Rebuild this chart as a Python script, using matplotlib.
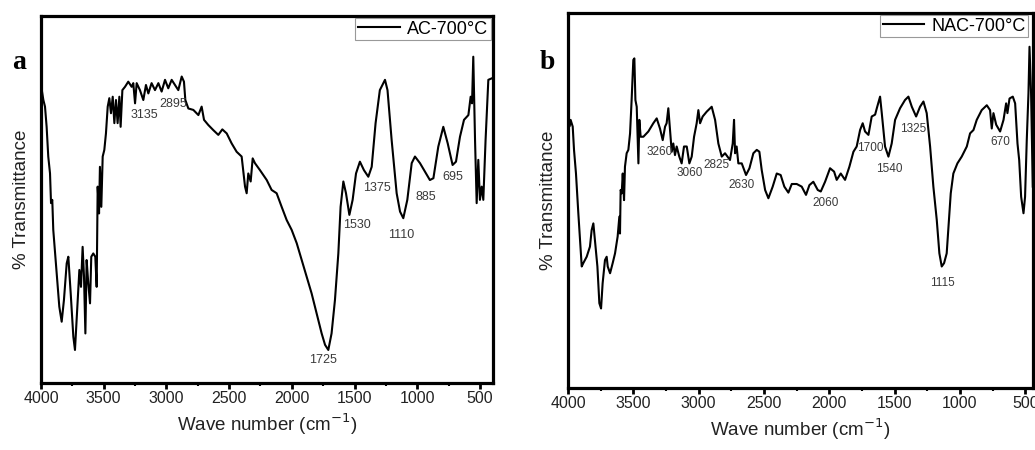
#   ftir spektren von AC-700°C (a) und NAC-700°C (b)
import matplotlib
matplotlib.use('Agg')
from matplotlib import pyplot as plt
from matplotlib.ticker import MultipleLocator

#   daten (wellenzahl in cm-1, transmittance in relativen einheiten)
wn_ac = [4000, 3981, 3968, 3955, 3942, 3928, 3920, 3910, 3902, 3875, 3854, 3835, 3817, 3795, 3782,
         3763, 3742, 3729, 3710, 3694, 3681, 3668, 3657, 3646, 3636, 3623, 3609, 3599, 3583, 3567,
         3556, 3548, 3537, 3530, 3519, 3508, 3495, 3482, 3468, 3455, 3442, 3428, 3415, 3402, 3389,
         3375, 3365, 3351, 3330, 3304, 3277, 3264, 3250, 3237, 3211, 3184, 3163, 3144, 3118, 3091,
         3064, 3038, 3011, 2985, 2958, 2932, 2905, 2878, 2860, 2849, 2825, 2785, 2745, 2719, 2700,
         2666, 2626, 2586, 2554, 2519, 2480, 2440, 2400, 2373, 2360, 2347, 2328, 2312, 2294, 2254,
         2200, 2161, 2121, 2081, 2041, 2001, 1961, 1921, 1881, 1842, 1802, 1762, 1735, 1709, 1683,
         1656, 1629, 1611, 1589, 1568, 1541, 1515, 1488, 1457, 1425, 1390, 1363, 1332, 1298, 1257,
         1237, 1204, 1164, 1137, 1111, 1079, 1044, 1018, 978, 938, 899, 871, 832, 792, 757,
         718, 691, 659, 627, 592, 574, 563, 553, 539, 526, 513, 500, 486, 473, 455,
         433, 406]
t_ac = [81.2, 77.1, 75.3, 69.8, 61.7, 57.1, 49.0, 49.9, 41.7, 29.9, 20.8, 16.7, 22.6, 32.6, 34.4,
        24.4, 12.6, 9.0, 20.8, 30.8, 26.2, 37.1, 29.0, 13.5, 33.5, 27.2, 21.7, 34.4, 35.3, 34.4,
        26.2, 53.5, 46.2, 58.9, 48.0, 61.7, 63.5, 68.0, 75.3, 77.6, 73.5, 78.0, 70.8, 77.1, 70.8,
        78.0, 69.8, 79.8, 80.7, 82.1, 80.7, 81.7, 76.2, 81.7, 79.8, 77.1, 81.2, 78.9, 81.7, 79.8,
        81.7, 79.4, 82.6, 80.3, 82.6, 81.2, 79.8, 83.5, 82.1, 77.1, 74.8, 74.4, 73.0, 75.3, 71.7,
        70.3, 68.9, 67.6, 69.1, 68.0, 65.3, 63.0, 61.7, 53.5, 51.7, 57.1, 54.9, 61.2, 59.9, 58.0,
        55.3, 52.6, 51.7, 48.0, 44.4, 41.7, 38.1, 33.5, 29.0, 24.4, 19.0, 13.5, 10.4, 9.0, 13.5,
        22.6, 35.3, 48.0, 54.9, 51.7, 45.8, 49.9, 57.1, 60.3, 58.0, 56.2, 58.9, 70.8, 79.8, 82.6,
        79.8, 66.2, 51.7, 46.7, 44.9, 49.9, 59.9, 61.7, 59.9, 57.6, 55.3, 55.8, 64.4, 69.8, 65.3,
        59.4, 60.3, 67.1, 71.7, 73.0, 78.0, 76.2, 88.9, 66.2, 49.0, 60.8, 49.9, 53.5, 49.9, 66.2,
        82.6, 83.0]

wn_nac = [4000, 3990, 3980, 3964, 3954, 3939, 3921, 3908, 3895, 3883, 3857, 3832, 3819, 3806, 3794,
          3775, 3760, 3747, 3735, 3717, 3704, 3696, 3678, 3658, 3640, 3620, 3607, 3602, 3597, 3589,
          3581, 3571, 3564, 3551, 3538, 3525, 3513, 3500, 3492, 3484, 3474, 3461, 3454, 3444, 3423,
          3385, 3347, 3321, 3296, 3275, 3257, 3245, 3232, 3219, 3206, 3194, 3181, 3168, 3148, 3130,
          3112, 3091, 3071, 3053, 3035, 3015, 3002, 2989, 2969, 2938, 2900, 2874, 2849, 2823, 2798,
          2760, 2739, 2729, 2721, 2709, 2696, 2670, 2637, 2611, 2581, 2555, 2535, 2517, 2491, 2466,
          2433, 2402, 2372, 2344, 2313, 2287, 2249, 2211, 2178, 2152, 2122, 2088, 2065, 2032, 1994,
          1963, 1943, 1912, 1879, 1846, 1815, 1790, 1764, 1744, 1726, 1700, 1675, 1649, 1636, 1611,
          1598, 1573, 1547, 1522, 1496, 1458, 1420, 1394, 1368, 1335, 1305, 1279, 1254, 1228, 1203,
          1177, 1157, 1139, 1121, 1101, 1088, 1070, 1050, 1019, 986, 947, 922, 896, 871, 833,
          794, 769, 756, 743, 722, 692, 666, 646, 636, 620, 595, 577, 559, 546, 531,
          513, 501, 488, 475, 467, 455, 442]
t_nac = [74.1, 69.7, 71.5, 69.7, 63.5, 57.2, 46.6, 39.5, 32.4, 33.3, 35.0, 37.7, 42.1, 43.9, 39.5,
         32.4, 22.6, 21.2, 27.9, 34.1, 35.0, 32.4, 30.6, 33.3, 35.9, 40.4, 45.7, 41.2, 52.8, 51.9,
         57.2, 50.1, 59.0, 62.6, 63.5, 67.9, 76.8, 87.5, 87.9, 76.8, 75.0, 59.9, 71.5, 67.0, 67.0,
         68.4, 70.6, 71.9, 69.2, 66.1, 69.7, 70.6, 74.6, 68.8, 63.0, 65.2, 62.1, 64.4, 61.7, 59.9,
         64.4, 64.4, 59.9, 61.7, 67.0, 70.6, 74.1, 70.6, 72.4, 73.7, 75.0, 71.5, 65.2, 61.7, 62.6,
         60.8, 65.2, 71.5, 62.6, 64.4, 59.9, 59.9, 56.8, 58.6, 62.6, 63.5, 63.0, 58.1, 52.8, 50.6,
         53.7, 57.2, 56.8, 53.7, 52.1, 54.4, 54.4, 53.7, 51.5, 54.1, 55.0, 52.8, 52.4, 55.0, 58.6,
         57.7, 55.5, 57.2, 55.5, 59.0, 63.0, 64.4, 68.8, 70.6, 68.4, 67.5, 72.4, 72.9, 74.6, 77.7,
         73.3, 64.4, 61.7, 65.2, 71.5, 74.6, 76.8, 77.7, 75.0, 72.4, 75.0, 76.4, 73.3, 64.4, 53.7,
         44.8, 35.9, 32.4, 33.3, 35.9, 42.7, 51.9, 57.2, 59.9, 61.7, 64.4, 67.9, 68.8, 71.5, 74.1,
         75.4, 74.1, 69.2, 73.3, 70.2, 68.4, 71.5, 75.9, 73.3, 77.2, 77.7, 75.9, 65.2, 60.8, 51.0,
         46.6, 51.0, 66.1, 78.6, 91.0, 78.6, 53.7]

#   peak beschriftungen (text, wellenzahl, position)
lab_ac = ['3135', '2895', '1725', '1530', '1375', '1110', '885', '695']
lab_ac_x = [3176, 2945, 1749, 1483, 1323, 1124, 933, 720]
lab_ac_y = [73.0, 75.9, 6.3, 43.1, 53.0, 40.3, 50.6, 56.2]

lab_nac = ['3260', '3060', '2825', '2630', '2060', '1700', '1540', '1325', '670', '1115']
lab_nac_x = [3301, 3066, 2862, 2670, 2027, 1683, 1540, 1361, 692, 1131]
lab_nac_y = [63.0, 57.2, 59.5, 54.0, 49.2, 64.1, 58.4, 69.2, 65.7, 28.1]

plt.rcParams['font.family'] = ['Liberation Sans', 'DejaVu Sans']

fig = plt.figure(figsize=(10.35, 4.5), dpi=100)
ax1 = fig.add_axes([0.0396, 0.1489, 0.4367, 0.8156])
ax2 = fig.add_axes([0.5488, 0.1378, 0.4493, 0.8333])


def style_axes(ax, xmin, label_fs):
    ax.set_xlim(4000, xmin)
    ax.set_ylim(0, 100)
    ax.set_yticks([])
    ax.xaxis.set_major_locator(MultipleLocator(500))
    ax.xaxis.set_minor_locator(MultipleLocator(250))
    ax.tick_params(axis='x', which='major', direction='out', length=4, width=2, labelsize=11.5,
                   colors='black', labelcolor='#222222', pad=2)
    ax.tick_params(axis='x', which='minor', direction='out', length=2.5, width=1.5)
    for s in ax.spines.values():
        s.set_linewidth(2.3)
    ax.set_xlabel('Wave number (cm$^{-1}$)', fontsize=label_fs, color='#222222')
    ax.set_ylabel('% Transmittance', fontsize=label_fs, color='#222222', labelpad=8)


#   a
ax1.plot(wn_ac, t_ac, color='black', linewidth=1.5, label='AC-700°C')
style_axes(ax1, 396, 13.5)
for t, x, y in zip(lab_ac, lab_ac_x, lab_ac_y):
    ax1.text(x, y, t, fontsize=9, color='#3a3a3a', ha='center', va='center')
leg = ax1.legend(loc='upper right', bbox_to_anchor=(0.995, 0.995), fontsize=13, frameon=True,
                 fancybox=False, edgecolor='#999999', framealpha=1, borderpad=0.15,
                 handlelength=2.3, handletextpad=0.4, borderaxespad=0)
leg.get_frame().set_linewidth(0.8)

#   b
ax2.plot(wn_nac, t_nac, color='black', linewidth=1.5, label='NAC-700°C')
style_axes(ax2, 440, 13.5)
for t, x, y in zip(lab_nac, lab_nac_x, lab_nac_y):
    ax2.text(x, y, t, fontsize=8.5, color='#3a3a3a', ha='center', va='center')
leg = ax2.legend(loc='upper left', bbox_to_anchor=(0.671, 0.995), fontsize=13, frameon=True,
                 fancybox=False, edgecolor='#999999', framealpha=1, borderpad=0.15,
                 handlelength=2.3, handletextpad=0.4, borderaxespad=0)
leg.get_frame().set_linewidth(0.8)

#   panel buchstaben
fig.text(0.012, 0.862, 'a', fontsize=20, fontweight='bold', family='Liberation Serif', va='center')
fig.text(0.521, 0.862, 'b', fontsize=20, fontweight='bold', family='Liberation Serif', va='center')

fig.savefig('out.png', dpi=100)
